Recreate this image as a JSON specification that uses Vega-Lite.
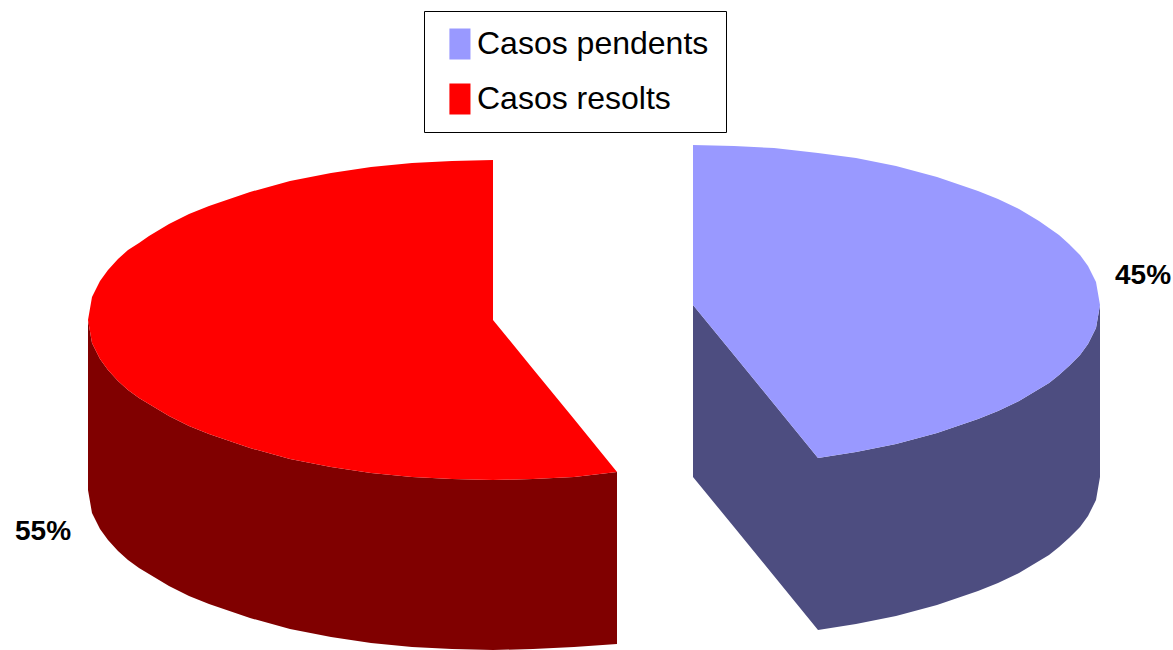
{"$schema":"https://vega.github.io/schema/vega-lite/v6.json","width":1173,"height":650,"padding":0,"autosize":{"type":"none"},"background":"white","view":{"stroke":null},
"datasets":{
"sides":[
{"cat":"Casos resolts","x":88,"y":320,"y2":490},{"cat":"Casos resolts","x":92,"y":343,"y2":513},{"cat":"Casos resolts","x":100,"y":359,"y2":529},{"cat":"Casos resolts","x":108,"y":370,"y2":540},{"cat":"Casos resolts","x":118,"y":381,"y2":551},{"cat":"Casos resolts","x":128,"y":390,"y2":560},{"cat":"Casos resolts","x":139,"y":398,"y2":568},{"cat":"Casos resolts","x":149,"y":404,"y2":574},{"cat":"Casos resolts","x":159,"y":410,"y2":580},{"cat":"Casos resolts","x":169,"y":416,"y2":586},{"cat":"Casos resolts","x":189,"y":426,"y2":596},{"cat":"Casos resolts","x":209,"y":434,"y2":604},{"cat":"Casos resolts","x":250,"y":448,"y2":618},{"cat":"Casos resolts","x":290,"y":459,"y2":629},{"cat":"Casos resolts","x":331,"y":467,"y2":637},{"cat":"Casos resolts","x":371,"y":473,"y2":643},{"cat":"Casos resolts","x":412,"y":477,"y2":647},{"cat":"Casos resolts","x":452,"y":479,"y2":649},{"cat":"Casos resolts","x":493,"y":480,"y2":650},{"cat":"Casos resolts","x":533,"y":479,"y2":649},{"cat":"Casos resolts","x":574,"y":477,"y2":647},{"cat":"Casos resolts","x":617,"y":472,"y2":644},
{"cat":"Casos pendents","x":693,"y":305,"y2":477},{"cat":"Casos pendents","x":734,"y":355,"y2":527},{"cat":"Casos pendents","x":774,"y":404,"y2":576},{"cat":"Casos pendents","x":818,"y":458,"y2":630},{"cat":"Casos pendents","x":856,"y":452,"y2":624},{"cat":"Casos pendents","x":896,"y":444,"y2":616},{"cat":"Casos pendents","x":937,"y":433,"y2":605},{"cat":"Casos pendents","x":978,"y":419,"y2":591},{"cat":"Casos pendents","x":998,"y":411,"y2":583},{"cat":"Casos pendents","x":1019,"y":401,"y2":573},{"cat":"Casos pendents","x":1029,"y":395,"y2":567},{"cat":"Casos pendents","x":1039,"y":389,"y2":561},{"cat":"Casos pendents","x":1049,"y":383,"y2":555},{"cat":"Casos pendents","x":1059,"y":375,"y2":547},{"cat":"Casos pendents","x":1069,"y":366,"y2":538},{"cat":"Casos pendents","x":1080,"y":355,"y2":527},{"cat":"Casos pendents","x":1088,"y":344,"y2":516},{"cat":"Casos pendents","x":1096,"y":328,"y2":500},{"cat":"Casos pendents","x":1100,"y":305,"y2":477}],
"tops":[
{"cat":"Casos resolts","x":88,"y":320,"y2":320},{"cat":"Casos resolts","x":92,"y":297,"y2":343},{"cat":"Casos resolts","x":100,"y":281,"y2":359},{"cat":"Casos resolts","x":108,"y":270,"y2":370},{"cat":"Casos resolts","x":118,"y":259,"y2":381},{"cat":"Casos resolts","x":128,"y":250,"y2":390},{"cat":"Casos resolts","x":139,"y":243,"y2":398},{"cat":"Casos resolts","x":149,"y":236,"y2":404},{"cat":"Casos resolts","x":159,"y":230,"y2":410},{"cat":"Casos resolts","x":169,"y":224,"y2":416},{"cat":"Casos resolts","x":189,"y":214,"y2":426},{"cat":"Casos resolts","x":209,"y":206,"y2":434},{"cat":"Casos resolts","x":250,"y":192,"y2":448},{"cat":"Casos resolts","x":290,"y":181,"y2":459},{"cat":"Casos resolts","x":331,"y":173,"y2":467},{"cat":"Casos resolts","x":371,"y":167,"y2":473},{"cat":"Casos resolts","x":412,"y":163,"y2":477},{"cat":"Casos resolts","x":452,"y":161,"y2":479},{"cat":"Casos resolts","x":493,"y":160,"y2":480},{"cat":"Casos resolts","x":493.01,"y":320,"y2":480},{"cat":"Casos resolts","x":533,"y":369,"y2":479},{"cat":"Casos resolts","x":574,"y":419,"y2":477},{"cat":"Casos resolts","x":617,"y":472,"y2":472},
{"cat":"Casos pendents","x":693,"y":145,"y2":305},{"cat":"Casos pendents","x":734,"y":146,"y2":355},{"cat":"Casos pendents","x":774,"y":148,"y2":404},{"cat":"Casos pendents","x":818,"y":153,"y2":458},{"cat":"Casos pendents","x":856,"y":158,"y2":452},{"cat":"Casos pendents","x":896,"y":166,"y2":444},{"cat":"Casos pendents","x":937,"y":177,"y2":433},{"cat":"Casos pendents","x":978,"y":191,"y2":419},{"cat":"Casos pendents","x":998,"y":199,"y2":411},{"cat":"Casos pendents","x":1019,"y":209,"y2":401},{"cat":"Casos pendents","x":1029,"y":215,"y2":395},{"cat":"Casos pendents","x":1039,"y":221,"y2":389},{"cat":"Casos pendents","x":1049,"y":228,"y2":383},{"cat":"Casos pendents","x":1059,"y":235,"y2":375},{"cat":"Casos pendents","x":1069,"y":244,"y2":366},{"cat":"Casos pendents","x":1080,"y":255,"y2":355},{"cat":"Casos pendents","x":1088,"y":266,"y2":344},{"cat":"Casos pendents","x":1096,"y":282,"y2":328},{"cat":"Casos pendents","x":1100,"y":305,"y2":305}],
"labels":[{"cat":"Casos pendents","share":"45%","x":1143,"y":276},{"cat":"Casos resolts","share":"55%","x":43,"y":532}]
},
"encoding":{
"x":{"field":"x","type":"quantitative","scale":{"domain":[0,1173],"nice":false,"zero":false},"axis":null},
"y":{"field":"y","type":"quantitative","scale":{"domain":[650,0],"nice":false,"zero":false},"axis":null}
},
"layer":[
{"data":{"name":"sides"},"mark":{"type":"area","interpolate":"linear"},
"encoding":{"y2":{"field":"y2"},"detail":{"field":"cat"},"color":{"field":"cat","type":"nominal","scale":{"domain":["Casos pendents","Casos resolts"],"range":["#4D4D80","#800000"]},"legend":null}}},
{"data":{"name":"tops"},"mark":{"type":"area","interpolate":"linear"},
"encoding":{"y2":{"field":"y2"},"fill":{"field":"cat","type":"nominal","scale":{"domain":["Casos pendents","Casos resolts"],"range":["#9999FF","#FF0000"]},
"legend":{"title":null,"orient":"none","legendX":424,"legendY":11,"padding":17,"fillColor":"white","strokeColor":"black","symbolType":"M-0.49,-1H0.87V1H-0.49Z","symbolSize":961,"symbolStrokeWidth":0,"labelFont":"Liberation Sans","labelFontSize":32,"labelColor":"black","labelLimit":400,"labelOffset":4,"rowPadding":23}}}},
{"data":{"name":"labels"},"mark":{"type":"text","font":"Liberation Sans","fontWeight":"bold","fontSize":28,"color":"black","align":"center","baseline":"middle"},
"encoding":{"text":{"field":"share","type":"nominal"}}}
],
"resolve":{"scale":{"color":"independent","fill":"independent"}}
}
